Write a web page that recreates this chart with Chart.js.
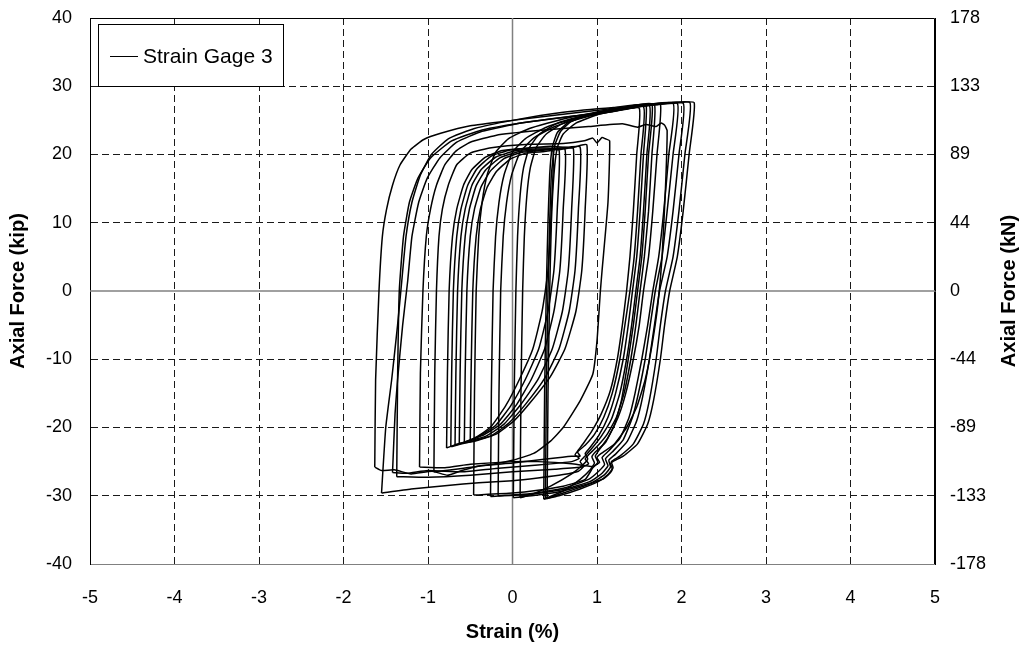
<!DOCTYPE html>
<html>
<head>
<meta charset="utf-8">
<title>Strain Gage 3</title>
<script src="https://cdn.jsdelivr.net/npm/chart.js@4.4.1/dist/chart.umd.min.js"></script>
<style>
  html, body { margin: 0; padding: 0; background: #fff; }
  #wrap { width: 1021px; height: 648px; }
</style>
</head>
<body>
<div id="wrap"><canvas id="chart" width="1021" height="648"></canvas></div>
<script>
  // axis ticks
  var strainTicks = [-5, -4, -3, -2, -1, 0, 1, 2, 3, 4, 5];
  var kipTicks = [-40, -30, -20, -10, 0, 10, 20, 30, 40];
  var kNLabels = ["-178", "-133", "-89", "-44", "0", "44", "89", "133", "178"];
  var legendLabel = "Strain Gage 3";

  // hysteresis cycles, [strain %, force kip]
  var cycleS1 = [[-0.78,-23.0],[-0.77,-12],[-0.75,0],[-0.71,8],[-0.66,12],[-0.58,15.5],[-0.48,17.8],[-0.32,19.6],[-0.12,20.6],[0.15,20.9],[0.45,21.2],[0.7,21.0],[0.88,21.4],[0.86,12],[0.82,3],[0.75,-3],[0.62,-8.5],[0.45,-12.5],[0.22,-16.2],[0.02,-19],[-0.2,-21],[-0.45,-22],[-0.65,-22.4],[-0.78,-23.0]];
  var cycleS2 = [[-0.73,-22.8],[-0.72,-12],[-0.70,0],[-0.66,8],[-0.61,12],[-0.53,15.5],[-0.42,17.9],[-0.26,19.7],[-0.05,20.6],[0.25,21.0],[0.55,20.9],[0.8,21.1],[0.78,12],[0.74,3],[0.67,-3],[0.55,-8.5],[0.38,-12.8],[0.16,-16.5],[-0.04,-19.3],[-0.25,-21.2],[-0.5,-22.1],[-0.73,-22.8]];
  var cycleS3 = [[-0.68,-22.6],[-0.67,-12],[-0.65,0],[-0.61,8],[-0.56,12],[-0.48,15.5],[-0.37,17.8],[-0.2,19.6],[0.02,20.5],[0.3,20.8],[0.55,20.7],[0.72,20.9],[0.70,12],[0.66,3],[0.59,-3],[0.47,-8.5],[0.3,-13],[0.1,-16.6],[-0.1,-19.5],[-0.32,-21.3],[-0.52,-22.0],[-0.68,-22.6]];
  var cycleS4 = [[-0.63,-22.4],[-0.62,-12],[-0.60,0],[-0.56,8],[-0.51,12],[-0.43,15.4],[-0.32,17.7],[-0.15,19.5],[0.07,20.4],[0.35,20.7],[0.62,20.8],[0.60,12],[0.56,3],[0.49,-3],[0.38,-8.5],[0.22,-13],[0.04,-16.8],[-0.15,-19.6],[-0.36,-21.2],[-0.63,-22.4]];
  var cycleS5 = [[-0.57,-22.2],[-0.56,-12],[-0.54,0],[-0.5,8],[-0.45,12],[-0.37,15.3],[-0.26,17.6],[-0.1,19.4],[0.1,20.3],[0.35,20.6],[0.55,20.7],[0.53,12],[0.49,3],[0.42,-3],[0.31,-8.5],[0.15,-13],[-0.02,-16.8],[-0.2,-19.7],[-0.4,-21.3],[-0.57,-22.2]];
  var cycleS6 = [[-0.50,-21.9],[-0.49,-12],[-0.47,0],[-0.43,8],[-0.38,12],[-0.3,15.2],[-0.19,17.5],[-0.03,19.3],[0.16,20.2],[0.35,20.4],[0.48,20.5],[0.46,12],[0.42,3],[0.35,-3],[0.24,-8.5],[0.08,-13],[-0.08,-16.8],[-0.25,-19.8],[-0.4,-21.2],[-0.5,-21.9]];

  var cycleB1 = [[-1.63,-25.8],[-1.62,-13],[-1.58,0],[-1.54,8],[-1.49,12],[-1.42,15.5],[-1.33,18.5],[-1.2,20.8],[-1.05,22.2],[-0.85,23.1],[-0.5,24.2],[0,25],[0.6,25.9],[1.1,26.6],[1.55,27.0],[1.52,20],[1.48,11.7],[1.44,5],[1.39,0],[1.33,-5],[1.27,-10],[1.18,-15],[1.08,-18.5],[0.97,-21],[0.86,-22.6],[0.82,-23.0],[0.77,-23.6],[0.8,-24.2],[0.7,-24.2],[0.4,-24.6],[0,-25.2],[-0.38,-25.6],[-0.6,-26.3],[-0.77,-27],[-0.95,-26.4],[-1.2,-26.8],[-1.4,-26.2],[-1.55,-26.3],[-1.63,-25.8]];
  var cycleB2 = [[-1.55,-29.6],[-1.5,-20],[-1.43,-13],[-1.36,-5],[-1.31,1.5],[-1.26,8],[-1.19,13],[-1.09,17],[-0.96,20],[-0.76,22.3],[-0.45,23.8],[0,25],[0.6,26.2],[1.2,26.9],[1.62,27.2],[1.59,20],[1.55,11.7],[1.51,5],[1.46,0],[1.41,-5],[1.35,-10],[1.27,-15],[1.17,-18.8],[1.05,-21.3],[0.93,-23.2],[0.85,-24.3],[0.8,-25.0],[0.84,-25.7],[0.78,-26.4],[0.6,-26.9],[0.3,-27.4],[0,-27.8],[-0.4,-28.1],[-0.77,-28.5],[-1.2,-29.0],[-1.55,-29.6]];
  var cycleB3 = [[-1.42,-26.6],[-1.39,-18],[-1.36,-13],[-1.3,-5],[-1.24,1.5],[-1.19,8],[-1.11,13],[-1.01,16.5],[-0.86,19.5],[-0.66,21.8],[-0.36,23.4],[0.1,24.6],[0.7,25.6],[1.2,26.3],[1.5,26.8],[1.47,20],[1.43,11.7],[1.39,5],[1.35,0],[1.3,-5],[1.24,-10],[1.16,-14.5],[1.05,-18],[0.94,-20.5],[0.84,-22.3],[0.78,-23.3],[0.74,-24.0],[0.79,-24.5],[0.7,-25.0],[0.3,-25.5],[-0.2,-26],[-0.6,-26.5],[-1.0,-26.3],[-1.25,-26.7],[-1.42,-26.6]];
  var cycleB4 = [[-1.37,-27.2],[-1.36,-13],[-1.34,0],[-1.29,8],[-1.22,13],[-1.12,16.5],[-0.97,19.5],[-0.72,22],[-0.36,23.6],[0.2,24.8],[0.9,25.9],[1.4,26.8],[1.68,27.3],[1.65,20],[1.61,11.7],[1.56,5],[1.51,0],[1.46,-5],[1.4,-10],[1.32,-15],[1.23,-18.5],[1.12,-21],[1.0,-22.8],[0.9,-24.0],[0.86,-24.6],[0.9,-25.3],[0.82,-25.8],[0.5,-26.1],[0,-26.5],[-0.5,-27],[-1.0,-27.3],[-1.37,-27.2]];
  var cycleB5 = [[-1.10,-25.8],[-1.09,-12],[-1.06,0],[-1.02,8],[-0.97,12],[-0.9,15.5],[-0.8,18.5],[-0.67,20.5],[-0.5,21.8],[-0.2,22.8],[0.3,23.5],[0.9,24.1],[1.3,24.5],[1.48,24.0],[1.58,24.4],[1.7,24.1],[1.76,24.6],[1.8,24.3],[1.83,23.5],[1.81,15],[1.77,5],[1.72,-2],[1.65,-8],[1.57,-13],[1.47,-17],[1.35,-20],[1.2,-22.5],[1.05,-23.8],[1.0,-24.4],[1.03,-25.1],[0.95,-25.7],[0.7,-25.3],[0.3,-25.0],[0,-25.0],[-0.5,-25.4],[-0.8,-25.9],[-1.10,-25.8]];
  var cycleB6 = [[-0.93,-26.5],[-0.92,-12],[-0.9,0],[-0.87,8],[-0.83,12],[-0.76,15.5],[-0.66,18.5],[-0.5,20.2],[-0.25,21],[0.2,21.5],[0.6,21.6],[0.85,22],[0.95,22.4],[1.0,21.7],[1.06,22.5],[1.1,22.3],[1.15,22.0],[1.13,13],[1.06,3],[1.04,0],[1.0,-7.3],[0.95,-12.2],[0.8,-16.1],[0.6,-20],[0.45,-22],[0.25,-23.8],[0,-24.8],[-0.3,-25.5],[-0.6,-26],[-0.93,-26.5]];

  var cycleD1 = [[-0.46,-29.9],[-0.45,-15],[-0.43,0],[-0.4,8],[-0.36,13],[-0.3,17],[-0.2,20.3],[-0.05,22.3],[0.2,23.8],[0.6,25.2],[1.1,26.4],[1.5,27.1],[1.75,27.4],[1.71,20],[1.66,11.7],[1.61,5],[1.55,0],[1.5,-5],[1.43,-10],[1.34,-15],[1.25,-18.5],[1.13,-21.5],[1.03,-23.2],[0.98,-24.2],[1.01,-25.1],[0.95,-25.9],[0.86,-27.6],[0.6,-28.6],[0.3,-29.2],[0,-29.6],[-0.46,-29.9]];
  var cycleD2 = [[-0.26,-30.1],[-0.25,-15],[-0.23,0],[-0.2,8],[-0.16,13],[-0.1,17],[0,20.3],[0.15,22.3],[0.4,24],[0.8,25.5],[1.3,26.7],[1.9,27.5],[1.85,20],[1.79,11.7],[1.73,5],[1.66,0],[1.6,-5],[1.53,-10],[1.45,-15],[1.38,-18.5],[1.27,-21.6],[1.14,-23.4],[1.06,-24.4],[1.09,-25.4],[1.02,-26.4],[0.9,-27.6],[0.6,-28.9],[0.2,-29.7],[-0.26,-30.1]];
  var cycleD3 = [[-0.17,-30.0],[-0.16,-15],[-0.14,0],[-0.11,8],[-0.07,13],[-0.01,17],[0.09,20.3],[0.25,22.4],[0.5,24.1],[0.9,25.6],[1.4,26.8],[1.95,27.5],[1.9,20],[1.83,11.7],[1.77,5],[1.69,0],[1.63,-5],[1.57,-10],[1.49,-15],[1.42,-18.5],[1.31,-21.8],[1.18,-23.6],[1.1,-24.6],[1.13,-25.6],[1.06,-26.7],[0.92,-27.9],[0.6,-29.1],[0.2,-29.8],[-0.17,-30.0]];
  var cycleD4 = [[0.01,-30.3],[0.02,-15],[0.04,0],[0.06,8],[0.09,14],[0.13,18],[0.2,21],[0.32,23],[0.55,24.7],[0.95,26],[1.5,27.1],[2.02,27.5],[1.97,20],[1.9,11.7],[1.83,5],[1.74,0],[1.68,-5],[1.62,-10],[1.54,-15.5],[1.47,-19],[1.36,-22],[1.22,-23.9],[1.14,-24.8],[1.16,-25.8],[1.09,-26.9],[0.95,-28.0],[0.6,-29.3],[0.3,-29.9],[0.01,-30.3]];
  var cycleD5 = [[0.09,-30.3],[0.1,-15],[0.12,0],[0.14,8],[0.17,14],[0.21,18],[0.28,21],[0.4,23],[0.62,24.7],[1.0,26],[1.35,26.9],[1.58,27.3],[1.55,20],[1.51,11.7],[1.47,5],[1.42,0],[1.37,-5],[1.31,-10],[1.22,-15],[1.13,-18.5],[1.02,-21.2],[0.92,-22.9],[0.86,-23.8],[0.89,-24.6],[0.83,-25.5],[0.7,-26.8],[0.45,-28.6],[0.25,-29.7],[0.09,-30.3]];
  var cycleD6 = [[0.37,-30.5],[0.38,-15],[0.4,0],[0.42,10],[0.44,17],[0.47,21],[0.53,23.2],[0.65,24.6],[0.9,25.8],[1.3,26.8],[1.7,27.3],[2.1,27.6],[2.04,20],[1.97,11.7],[1.9,5],[1.81,0],[1.75,-5],[1.7,-10],[1.62,-16],[1.55,-19.5],[1.43,-22.4],[1.27,-24.2],[1.17,-25.0],[1.19,-25.9],[1.13,-26.9],[1.02,-27.9],[0.8,-29.0],[0.55,-30.0],[0.37,-30.5]];
  var cycleD7 = [[0.39,-30.4],[0.4,-15],[0.42,0],[0.44,10],[0.46,17],[0.5,21.3],[0.57,23.4],[0.7,24.9],[1.0,26.2],[1.35,27],[1.65,27.4],[1.61,20],[1.57,11.7],[1.53,5],[1.48,0],[1.43,-5],[1.37,-10],[1.29,-16],[1.21,-19.5],[1.1,-22.2],[0.98,-23.6],[0.94,-24.3],[0.97,-25.2],[0.92,-26.2],[0.8,-27.6],[0.6,-29.3],[0.39,-30.4]];
  var cycleD8 = [[0.41,-30.4],[0.42,-15],[0.44,0],[0.46,10],[0.49,17],[0.53,21],[0.6,23],[0.75,24.6],[1.05,26],[1.5,27],[1.9,27.5],[2.15,27.6],[2.09,20],[2.02,11.7],[1.95,5],[1.86,0],[1.8,-5],[1.75,-10],[1.67,-16],[1.6,-19.5],[1.48,-22.4],[1.31,-24.2],[1.2,-24.9],[1.16,-25.3],[1.18,-26.0],[1.16,-26.6],[1.08,-27.5],[0.84,-28.6],[0.6,-29.6],[0.41,-30.4]];

  var cycles = [cycleS1, cycleS2, cycleS3, cycleS4, cycleS5, cycleS6,
    cycleB1, cycleB2, cycleB3, cycleB4, cycleB5, cycleB6,
    cycleD1, cycleD2, cycleD3, cycleD4, cycleD5, cycleD6, cycleD7, cycleD8];

  var zeroStrain = [[0, -40], [0, 40]];
  var zeroForce = [[-5, 0], [5, 0]];

  var FONT = '"Liberation Sans", Arial, Helvetica, sans-serif';
  var tickFont = { family: FONT, size: 18 };
  var titleFont = { family: FONT, size: 20, weight: "bold" };

  function toPoints(arr) {
    return arr.map(function (p) { return { x: p[0], y: p[1] }; });
  }

  function hideZero(ctx) {
    return ctx.tick && ctx.tick.value === 0 ? "rgba(0,0,0,0)" : "#1a1a1a";
  }

  // keep the plot box where the picture has it, whatever the label overhang
  function fixedWidth(w) {
    return function (s) {
      s.width = w;
      s.paddingTop = 0;
      s.paddingBottom = 0;
    };
  }

  var datasets = cycles.map(function (c) {
    return {
      label: legendLabel,
      data: toPoints(c),
      showLine: true,
      borderColor: "#000",
      borderWidth: 1.5,
      pointRadius: 0,
      tension: 0.15,
      order: 0,
    };
  });
  [zeroStrain, zeroForce].forEach(function (z) {
    datasets.push({
      label: "axis",
      data: toPoints(z),
      showLine: true,
      borderColor: "#808080",
      borderWidth: 1.5,
      pointRadius: 0,
      order: 10,
    });
  });

  var framePlugin = {
    id: "frame",
    beforeDatasetsDraw: function (chart) {
      var a = chart.chartArea, ctx = chart.ctx;
      ctx.save();
      ctx.strokeStyle = "#000";
      ctx.lineWidth = 1;
      ctx.beginPath();
      ctx.moveTo(a.left + 0.5, a.bottom);
      ctx.lineTo(a.left + 0.5, a.top + 0.5);
      ctx.lineTo(a.right - 0.5, a.top + 0.5);
      ctx.lineTo(a.right - 0.5, a.bottom);
      ctx.stroke();
      ctx.restore();
    },
    afterDraw: function (chart) {
      var a = chart.chartArea, ctx = chart.ctx;
      // legend box inside the plot
      var x = a.left + 8, y = a.top + 6, w = 185, h = 62;
      ctx.save();
      ctx.fillStyle = "#fff";
      ctx.fillRect(x, y, w, h);
      ctx.strokeStyle = "#000";
      ctx.lineWidth = 1;
      ctx.strokeRect(x + 0.5, y + 0.5, w, h);
      ctx.beginPath();
      ctx.moveTo(x + 12, y + 32.5);
      ctx.lineTo(x + 40, y + 32.5);
      ctx.stroke();
      ctx.fillStyle = "#000";
      ctx.font = "21px " + FONT;
      ctx.textBaseline = "middle";
      ctx.textAlign = "left";
      ctx.fillText(legendLabel, x + 45, y + 33);
      // right axis title, reading bottom to top like the left one
      ctx.translate(1009, (a.top + a.bottom) / 2);
      ctx.rotate(-Math.PI / 2);
      ctx.font = "bold 20px " + FONT;
      ctx.textAlign = "center";
      ctx.fillText("Axial Force (kN)", 0, 0);
      ctx.restore();
    },
  };

  new Chart(document.getElementById("chart"), {
    type: "scatter",
    data: { datasets: datasets },
    plugins: [framePlugin],
    options: {
      responsive: false,
      animation: false,
      layout: { padding: { top: 18, left: 0, right: 0, bottom: 0 } },
      plugins: { legend: { display: false }, tooltip: { enabled: false } },
      scales: {
        x: {
          type: "linear",
          min: -5,
          max: 5,
          afterBuildTicks: function (s) { s.ticks = strainTicks.map(function (v) { return { value: v }; }); },
          afterFit: function (s) { s.height = 84; s.paddingLeft = 0; s.paddingRight = 0; },
          grid: { color: hideZero, lineWidth: 1, drawTicks: false },
          border: { display: true, color: "#808080", width: 1, dash: [7, 4] },
          ticks: { color: "#000", font: tickFont, padding: 23, maxRotation: 0, callback: function (v) { return String(v); } },
          title: { display: true, text: "Strain (%)", color: "#000", font: titleFont, padding: { top: 0, bottom: 4 } },
        },
        y: {
          type: "linear",
          position: "left",
          min: -40,
          max: 40,
          afterBuildTicks: function (s) { s.ticks = kipTicks.map(function (v) { return { value: v }; }); },
          afterFit: fixedWidth(90),
          grid: { color: hideZero, lineWidth: 1, drawTicks: false },
          border: { display: true, color: "#000", width: 1, dash: [7, 4] },
          ticks: { color: "#000", font: tickFont, padding: 18, callback: function (v) { return String(v); } },
          title: { display: true, text: "Axial Force (kip)", color: "#000", font: titleFont, padding: { top: 6, bottom: 0 } },
        },
        y2: {
          type: "linear",
          axis: "y",
          position: "right",
          min: -40,
          max: 40,
          afterBuildTicks: function (s) { s.ticks = kipTicks.map(function (v) { return { value: v }; }); },
          afterFit: fixedWidth(86),
          grid: { display: false, drawTicks: false },
          border: { display: true, color: "#000", width: 1 },
          ticks: {
            color: "#000",
            font: tickFont,
            padding: 15,
            callback: function (v) { return kNLabels[kipTicks.indexOf(v)]; },
          },
        },
      },
    },
  });
</script>
</body>
</html>
